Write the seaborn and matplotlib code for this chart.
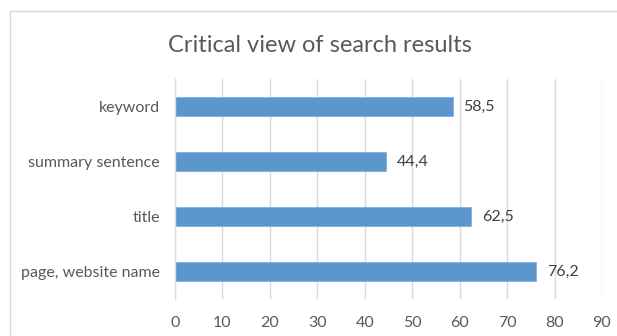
import matplotlib
matplotlib.use("Agg")
import matplotlib.pyplot as plt
import seaborn as sns
import pandas as pd
from matplotlib.patches import Rectangle

categories = ["keyword", "summary sentence", "title", "page, website name"]
values = [58.5, 44.4, 62.5, 76.2]
labels = ["58,5", "44,4", "62,5", "76,2"]
xticks = [0, 10, 20, 30, 40, 50, 60, 70, 80, 90]

sns.set_theme(style="white")
plt.rcParams['font.family'] = ['Lato', 'DejaVu Sans']

df = pd.DataFrame({"category": categories, "value": values})

fig = plt.figure(figsize=(6.17, 3.36), dpi=100)
ax = fig.add_axes([0.2836, 0.110, 0.692, 0.655])
sns.barplot(data=df, x="value", y="category", orient="h", color="#5B97CD",
            width=0.36, ax=ax, saturation=1, edgecolor="#7FB2E0", linewidth=0.6)
ax.set_xlim(0, 90)
ax.set_ylim(3.5, -0.5)
ax.set_xticks(xticks)
ax.set_xticklabels([str(t) for t in xticks], fontsize=11.5, color="#595959")
ax.tick_params(axis="y", labelsize=11.5, labelcolor="#595959", length=0, pad=11)
ax.tick_params(axis="x", length=0, pad=12)
ax.set_xlabel("")
ax.set_ylabel("")
ax.xaxis.grid(True, color="#D9D9D9", linewidth=1)
ax.set_axisbelow(True)
for s in ["top", "right", "bottom"]:
    ax.spines[s].set_visible(False)
ax.spines["left"].set_color("#D9D9D9")
ax.spines["left"].set_linewidth(1)

for i, (v, lab) in enumerate(zip(values, labels)):
    ax.text(v + 2.3, i, lab, va="center", ha="left", fontsize=11.5, color="#404040")

fig.text(0.519, 1 - 52/336, "Critical view of search results", ha="center", va="baseline",
         fontsize=17, color="#595959")

fig.patches.append(Rectangle((10/617, -0.1), 1.2, 1 - 11/336 + 0.1, transform=fig.transFigure,
                             fill=False, edgecolor="#D9D9D9", linewidth=1))

fig.savefig("out.png", dpi=100)
